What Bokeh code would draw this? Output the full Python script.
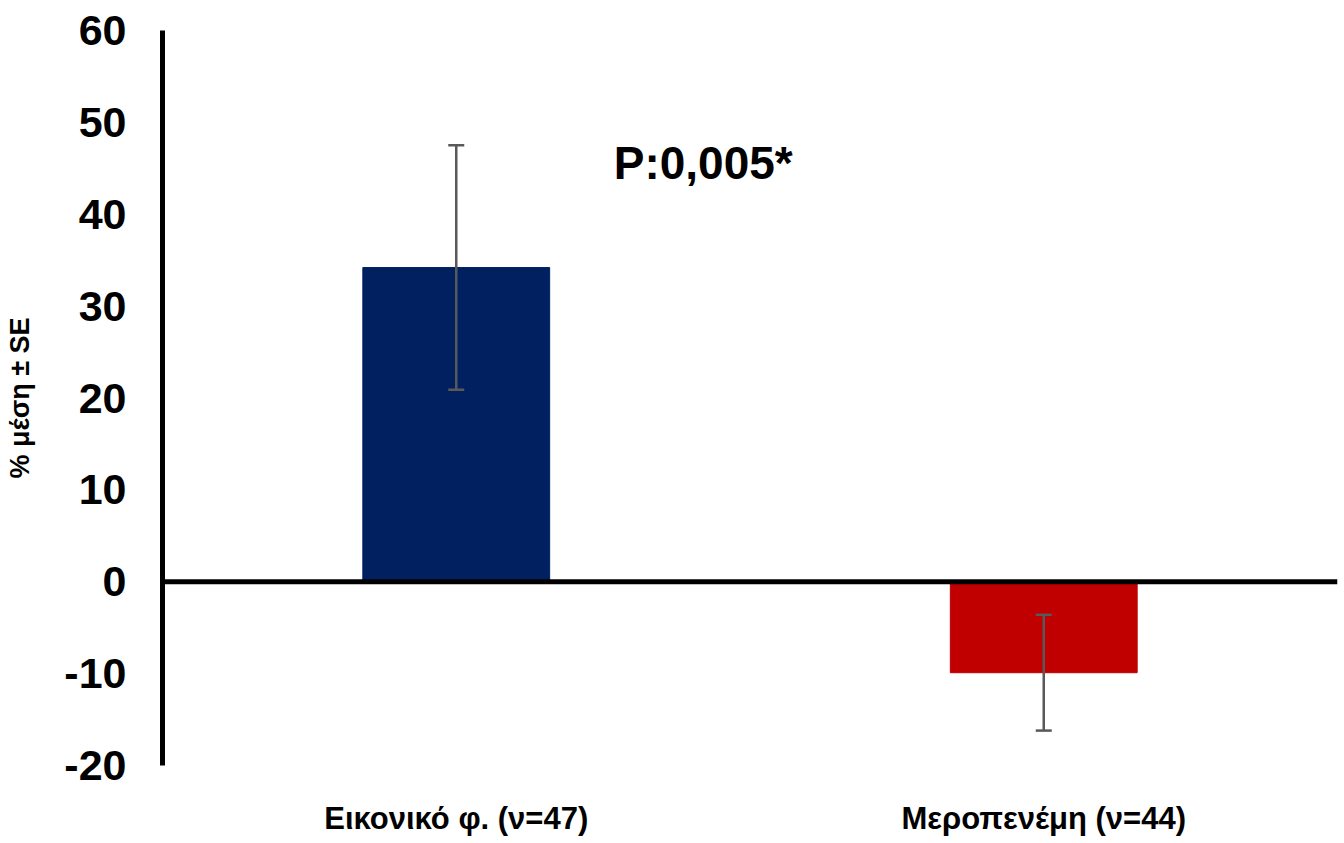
from bokeh.plotting import figure
from bokeh.models import (ColumnDataSource, FixedTicker, Span, Whisker, Label, TeeHead,
                          Range1d, FactorRange, CustomJSTickFormatter)
from bokeh.embed import file_html
from bokeh.resources import INLINE

categories = ["Εικονικό φ. (ν=47)", "Μεροπενέμη (ν=44)"]
means = [34.2, -9.9]
se = [13.3, 6.3]
colors = ["#002060", "#C00000"]
y_ticks = [-20, -10, 0, 10, 20, 30, 40, 50, 60]
p_text = "P:0,005*"
y_label = "% μέση ± SE"

src = ColumnDataSource(dict(
    cat=categories, mean=means, color=colors,
    upper=[m + s for m, s in zip(means, se)],
    lower=[m - s for m, s in zip(means, se)],
))

p = figure(x_range=FactorRange(*categories, range_padding=0), y_range=Range1d(-20, 60),
           width=1344, height=843, output_backend="svg", toolbar_location=None,
           min_border_left=162, min_border_right=7, min_border_top=30, min_border_bottom=78)

p.vbar(x="cat", top="mean", bottom=0, width=0.318, color="color", source=src)

w = Whisker(base="cat", upper="upper", lower="lower", source=src, level="annotation",
            line_color="#595959", line_width=2.5)
w.upper_head = TeeHead(size=16, line_color="#595959", line_width=2.5)
w.lower_head = TeeHead(size=16, line_color="#595959", line_width=2.5)
p.add_layout(w)

p.add_layout(Span(location=0, dimension="width", line_color="black", line_width=5))

p.add_layout(Label(x=0.768, y=45.6, text=p_text, text_font="Liberation Sans",
                   text_font_style="bold", text_font_size="46px", text_color="black",
                   text_baseline="alphabetic"))

p.xgrid.visible = False
p.ygrid.visible = False
p.outline_line_color = None

ya = p.yaxis[0]
ya.ticker = FixedTicker(ticks=y_ticks)
ya.formatter = CustomJSTickFormatter(code="return String(tick);")
ya.axis_line_width = 5
ya.axis_line_color = "black"
ya.major_tick_line_color = None
ya.minor_tick_line_color = None
ya.major_tick_out = 0
ya.major_label_text_font = "Liberation Sans"
ya.major_label_text_font_style = "bold"
ya.major_label_text_font_size = "43px"
ya.major_label_text_color = "black"
ya.major_label_standoff = 36
ya.axis_label = y_label
ya.axis_label_text_font = "Liberation Sans"
ya.axis_label_text_font_style = "bold"
ya.axis_label_text_font_size = "27px"
ya.axis_label_text_color = "black"
ya.axis_label_standoff = 26

xa = p.xaxis[0]
xa.axis_line_color = None
xa.major_tick_line_color = None
xa.minor_tick_line_color = None
xa.major_tick_out = 0
xa.major_label_text_font = "Liberation Sans"
xa.major_label_text_font_style = "bold"
xa.major_label_text_font_size = "31px"
xa.major_label_text_color = "black"
xa.major_label_standoff = 35

open("out.html", "w").write(file_html(p, INLINE))
